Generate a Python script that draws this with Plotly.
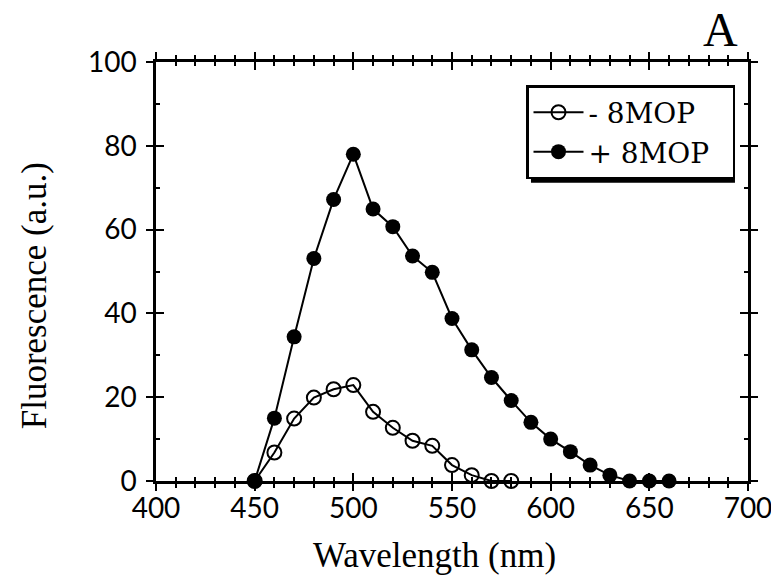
import plotly.graph_objects as go

wavelength_minus = [450, 460, 470, 480, 490, 500, 510, 520, 530, 540, 550, 560, 570, 580]
fluor_minus = [0, 6.8, 14.9, 19.9, 21.9, 22.9, 16.5, 12.7, 9.6, 8.4, 3.8, 1.4, 0, 0]

wavelength_plus = [450, 460, 470, 480, 490, 500, 510, 520, 530, 540, 550, 560, 570, 580,
                   590, 600, 610, 620, 630, 640, 650, 660]
fluor_plus = [0, 15.0, 34.4, 53.1, 67.2, 78.0, 64.9, 60.7, 53.7, 49.8, 38.8, 31.3, 24.7, 19.2,
              14.0, 10.0, 7.0, 3.8, 1.4, 0, 0, 0]

x_ticks = [400, 450, 500, 550, 600, 650, 700]
y_ticks = [0, 20, 40, 60, 80, 100]

fig = go.Figure()
fig.add_trace(go.Scatter(
    x=wavelength_minus, y=fluor_minus, name="- 8MOP\u00a0\u00a0", mode="lines+markers",
    line=dict(color="black", width=2),
    marker=dict(symbol="circle-open", size=14, color="black", line=dict(width=2)),
    cliponaxis=False,
))
fig.add_trace(go.Scatter(
    x=wavelength_plus, y=fluor_plus, name="+ 8MOP\u00a0\u00a0", mode="lines+markers",
    line=dict(color="black", width=2),
    marker=dict(symbol="circle", size=15, color="black"),
    cliponaxis=False,
))
# overlay axes to give crossing ticks
fig.add_trace(go.Scatter(x=[None], y=[None], xaxis="x2", yaxis="y2", showlegend=False))

tickfont = dict(family="Lato", size=28, color="black")
titlefont = dict(family="Liberation Serif", size=35, color="black")

fig.update_layout(
    width=771, height=584,
    margin=dict(l=156, r=23, t=62, b=103, autoexpand=False),
    paper_bgcolor="white", plot_bgcolor="white",
    showlegend=True,
    legend=dict(
        x=0.625, y=0.945, xanchor="left", yanchor="top",
        bgcolor="white", bordercolor="black", borderwidth=2.5,
        font=dict(family="DejaVu Serif", size=28, color="black"),
        itemwidth=50, tracegroupgap=0,
    ),
    xaxis=dict(
        range=[400, 700], tickvals=x_ticks, ticktext=[str(v) for v in x_ticks],
        showline=True, linecolor="black", linewidth=2.5, mirror="ticks",
        ticks="outside", ticklen=7, tickwidth=2, tickcolor="black",
        minor=dict(dtick=10, ticks="outside", ticklen=4, tickwidth=1.5, tickcolor="black", showgrid=False),
        showgrid=False, zeroline=False, tickfont=tickfont, automargin=False,
        ticklabelstandoff=-6, ticklabeloverflow="allow",
    ),
    yaxis=dict(
        range=[0, 100], tickvals=y_ticks, ticktext=[str(v) for v in y_ticks],
        showline=True, linecolor="black", linewidth=2.5, mirror="ticks",
        ticks="outside", ticklen=7, tickwidth=2, tickcolor="black",
        showgrid=False, zeroline=False, tickfont=tickfont, automargin=False,
        ticklabelstandoff=4, ticklabeloverflow="allow",
    ),
    xaxis2=dict(
        range=[400, 700], overlaying="x", side="bottom", tickvals=x_ticks, showticklabels=False,
        ticks="inside", ticklen=8, tickwidth=2, tickcolor="black", mirror="ticks", showline=False,
        minor=dict(dtick=10, ticks="inside", ticklen=4, tickwidth=1.5, tickcolor="black", showgrid=False),
        showgrid=False, zeroline=False, automargin=False,
    ),
    yaxis2=dict(
        range=[0, 100], overlaying="y", side="left", tickvals=y_ticks, showticklabels=False,
        ticks="inside", ticklen=8, tickwidth=2, tickcolor="black", mirror="ticks", showline=False,
        minor=dict(dtick=10, ticks="inside", ticklen=4, tickwidth=1.5, tickcolor="black", showgrid=False),
        showgrid=False, zeroline=False, automargin=False,
    ),
)

# axis titles
fig.add_annotation(text="Wavelength (nm)", xref="paper", yref="paper", x=0.47, y=-0.177,
                   xanchor="center", yanchor="middle", showarrow=False, font=titlefont)
fig.add_annotation(text="Fluorescence (a.u.)", xref="paper", yref="paper", x=-0.206, y=0.441,
                   xanchor="center", yanchor="middle", showarrow=False, textangle=-90, font=titlefont)

# legend shadow
fig.add_shape(type="rect", xref="paper", yref="paper", layer="below",
              x0=0.6334, x1=0.978, y0=0.712, y1=0.933,
              fillcolor="black", line=dict(width=0))

fig.add_annotation(text="A", xref="paper", yref="paper", x=0.953, y=1.146,
                   xanchor="center", yanchor="top", showarrow=False,
                   font=dict(family="Liberation Serif", size=48, color="black"))

fig.write_html("out.html", config={"displayModeBar": False},
               post_script="document.body.style.margin='0px';")
